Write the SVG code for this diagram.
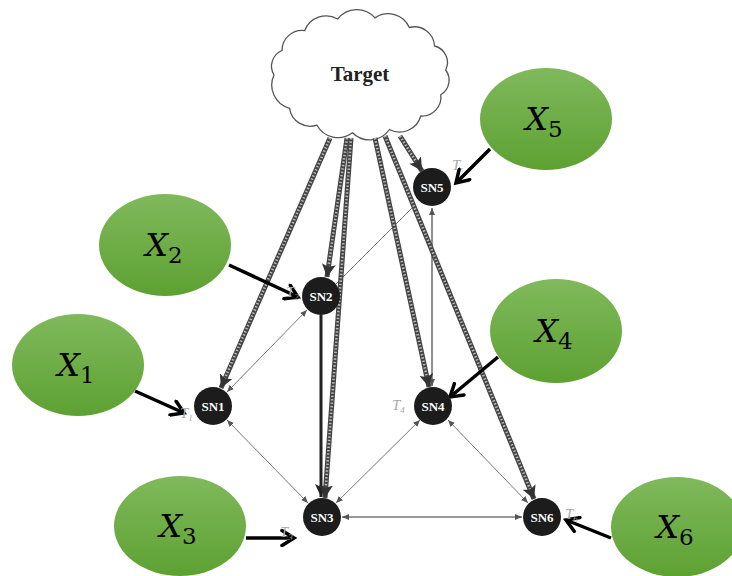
<svg xmlns="http://www.w3.org/2000/svg" width="732" height="576" viewBox="0 0 732 576">
<defs>
<linearGradient id="g" x1="0" y1="0" x2="0" y2="1">
<stop offset="0" stop-color="#80b95c"/>
<stop offset="1" stop-color="#5da132"/>
</linearGradient>
<marker id="hh" markerUnits="userSpaceOnUse" markerWidth="14" markerHeight="14" viewBox="0 0 14 14" refX="13" refY="7" orient="auto">
<path d="M0,0 L13,7 L0,14 L3,7 Z" fill="#333"/>
</marker>
<marker id="bh" markerUnits="userSpaceOnUse" markerWidth="18" markerHeight="18" viewBox="0 0 18 18" refX="15" refY="9" orient="auto">
<path d="M3,1.5 L15,9 L3,16.5" fill="none" stroke="#000" stroke-width="3.5" stroke-linecap="round" stroke-linejoin="miter"/>
</marker>
<marker id="sh" markerUnits="userSpaceOnUse" markerWidth="8" markerHeight="8" viewBox="0 0 8 8" refX="7" refY="4" orient="auto-start-reverse">
<path d="M0,1 L7,4 L0,7 Z" fill="#555"/>
</marker>
<marker id="kh" markerUnits="userSpaceOnUse" markerWidth="14" markerHeight="14" viewBox="0 0 14 14" refX="13" refY="7" orient="auto">
<path d="M0,1 L13,7 L0,13 L3,7 Z" fill="#222"/>
</marker>
</defs>
<style>
.hb{stroke:#444;stroke-width:5;fill:none}
.hs{stroke:#bbb;stroke-width:2.6;stroke-dasharray:1.4 2;fill:none}
.thin{stroke:#777;stroke-width:1;fill:none}
.xa{stroke:#000;stroke-width:3.5;fill:none}
.ell{fill:url(#g)}
.sn{fill:#1c1c1c}
.snt{font-family:"Liberation Serif",serif;font-weight:bold;font-size:13px;fill:#fff;text-anchor:middle}
.xt{font-family:"DejaVu Serif",serif;font-size:32px;fill:#000;text-anchor:middle}
.tt{font-family:"Liberation Serif",serif;font-style:italic;font-size:15px;fill:#aaa}
</style>
<g id="target">
<path d="M274,75 A17,17 0 0 1 282,50.5 A20,20 0 0 1 304.7,30.6 A23,23 0 0 1 337.7,19 A24,24 0 0 1 375,17.9 A23,23 0 0 1 409.3,27.5 A20,20 0 0 1 434.5,46 A17,17 0 0 1 445.7,70 A17,17 0 0 1 440.8,94.8 A19,19 0 0 1 420.8,116 A22,22 0 0 1 389.4,129.5 A24,24 0 0 1 352.5,132.8 A24,24 0 0 1 317,125.2 A21,21 0 0 1 289.6,108.3 A24,24 0 0 1 274,75 Z" fill="#fff" stroke="#555" stroke-width="1.3"/>
<text x="360" y="81" font-family="Liberation Serif,serif" font-weight="bold" font-size="21" fill="#222" text-anchor="middle">Target</text>
</g>
<g id="connectors">
<line class="thin" x1="413" y1="207" x2="336" y2="284"/>
<line x1="432" y1="208" x2="432" y2="386" stroke="#222" stroke-width="1" marker-start="url(#sh)" marker-end="url(#sh)"/>
<line class="thin" x1="227" y1="392" x2="307" y2="310" marker-start="url(#sh)" marker-end="url(#sh)"/>
<line class="thin" x1="227" y1="420" x2="308" y2="503" marker-start="url(#sh)" marker-end="url(#sh)"/>
<line class="thin" x1="336" y1="503" x2="420" y2="420" marker-start="url(#sh)" marker-end="url(#sh)"/>
<line class="thin" x1="448" y1="420" x2="528" y2="503" marker-start="url(#sh)" marker-end="url(#sh)"/>
<line x1="342" y1="517" x2="522" y2="517" stroke="#333" stroke-width="1.2" marker-start="url(#sh)" marker-end="url(#sh)"/>
<line x1="321" y1="315" x2="321" y2="497" stroke="#222" stroke-width="3" marker-end="url(#kh)"/>
<line class="hb" x1="330" y1="138" x2="221" y2="388" marker-end="url(#hh)"/>
<line class="hs" x1="330" y1="138" x2="225" y2="378"/>
<line class="hb" x1="347" y1="138" x2="327" y2="277" marker-end="url(#hh)"/>
<line class="hs" x1="347" y1="138" x2="328.6" y2="266"/>
<line class="hb" x1="351" y1="138" x2="325" y2="498" marker-end="url(#hh)"/>
<line class="hs" x1="351" y1="138" x2="325.8" y2="487"/>
<line class="hb" x1="375" y1="138" x2="429" y2="387" marker-end="url(#hh)"/>
<line class="hs" x1="375" y1="138" x2="426.7" y2="376.5"/>
<line class="hb" x1="385" y1="136" x2="534" y2="499" marker-end="url(#hh)"/>
<line class="hs" x1="385" y1="136" x2="530" y2="489"/>
<line class="hb" x1="400" y1="136" x2="422" y2="171" marker-end="url(#hh)"/>
<line class="hs" x1="400" y1="136" x2="416" y2="161.5"/>
<line class="xa" x1="135" y1="391" x2="184" y2="413" marker-end="url(#bh)"/>
<line class="xa" x1="229" y1="265" x2="298" y2="297" marker-end="url(#bh)"/>
<line class="xa" x1="246" y1="538" x2="294" y2="538" marker-end="url(#bh)"/>
<line class="xa" x1="498" y1="357" x2="450" y2="397" marker-end="url(#bh)"/>
<line class="xa" x1="490" y1="149" x2="456" y2="183" marker-end="url(#bh)"/>
<line class="xa" x1="611" y1="538" x2="566" y2="520" marker-end="url(#bh)"/>
</g>
<g id="SN1"><circle class="sn" cx="213" cy="406" r="19"/><text class="snt" x="213" y="411">SN1</text><text class="tt" x="180" y="418">T<tspan font-size="9" dy="3">1</tspan></text></g>
<g id="SN2"><circle class="sn" cx="321" cy="296" r="19"/><text class="snt" x="321" y="301">SN2</text><text class="tt" x="286" y="297">T<tspan font-size="9" dy="3">2</tspan></text></g>
<g id="SN3"><circle class="sn" cx="322" cy="517" r="19"/><text class="snt" x="322" y="522">SN3</text><text class="tt" x="280" y="537">T<tspan font-size="9" dy="3">3</tspan></text></g>
<g id="SN4"><circle class="sn" cx="433" cy="406" r="19"/><text class="snt" x="433" y="411">SN4</text><text class="tt" x="392" y="410">T<tspan font-size="9" dy="3">4</tspan></text></g>
<g id="SN5"><circle class="sn" cx="432" cy="187" r="19"/><text class="snt" x="432" y="192">SN5</text><text class="tt" x="452" y="170" font-size="8">T<tspan font-size="6" dy="2">5</tspan></text></g>
<g id="SN6"><circle class="sn" cx="542" cy="517" r="19"/><text class="snt" x="542" y="522">SN6</text><text class="tt" x="565" y="519">T<tspan font-size="9" dy="3">6</tspan></text></g>
<g id="X1"><ellipse class="ell" cx="78" cy="365" rx="66" ry="51"/><text class="xt" x="76" y="376"><tspan font-style="italic">X</tspan><tspan font-size="23" dy="7">1</tspan></text></g>
<g id="X2"><ellipse class="ell" cx="165" cy="245" rx="66" ry="51"/><text class="xt" x="164" y="256"><tspan font-style="italic">X</tspan><tspan font-size="23" dy="7">2</tspan></text></g>
<g id="X3"><ellipse class="ell" cx="180" cy="526" rx="66" ry="50"/><text class="xt" x="178" y="537"><tspan font-style="italic">X</tspan><tspan font-size="23" dy="7">3</tspan></text></g>
<g id="X4"><ellipse class="ell" cx="556" cy="331" rx="66" ry="52"/><text class="xt" x="554" y="342"><tspan font-style="italic">X</tspan><tspan font-size="23" dy="7">4</tspan></text></g>
<g id="X5"><ellipse class="ell" cx="546" cy="119" rx="66" ry="51"/><text class="xt" x="544" y="130"><tspan font-style="italic">X</tspan><tspan font-size="23" dy="7">5</tspan></text></g>
<g id="X6"><ellipse class="ell" cx="677" cy="527" rx="66" ry="50"/><text class="xt" x="675" y="538"><tspan font-style="italic">X</tspan><tspan font-size="23" dy="7">6</tspan></text></g>
</svg>
